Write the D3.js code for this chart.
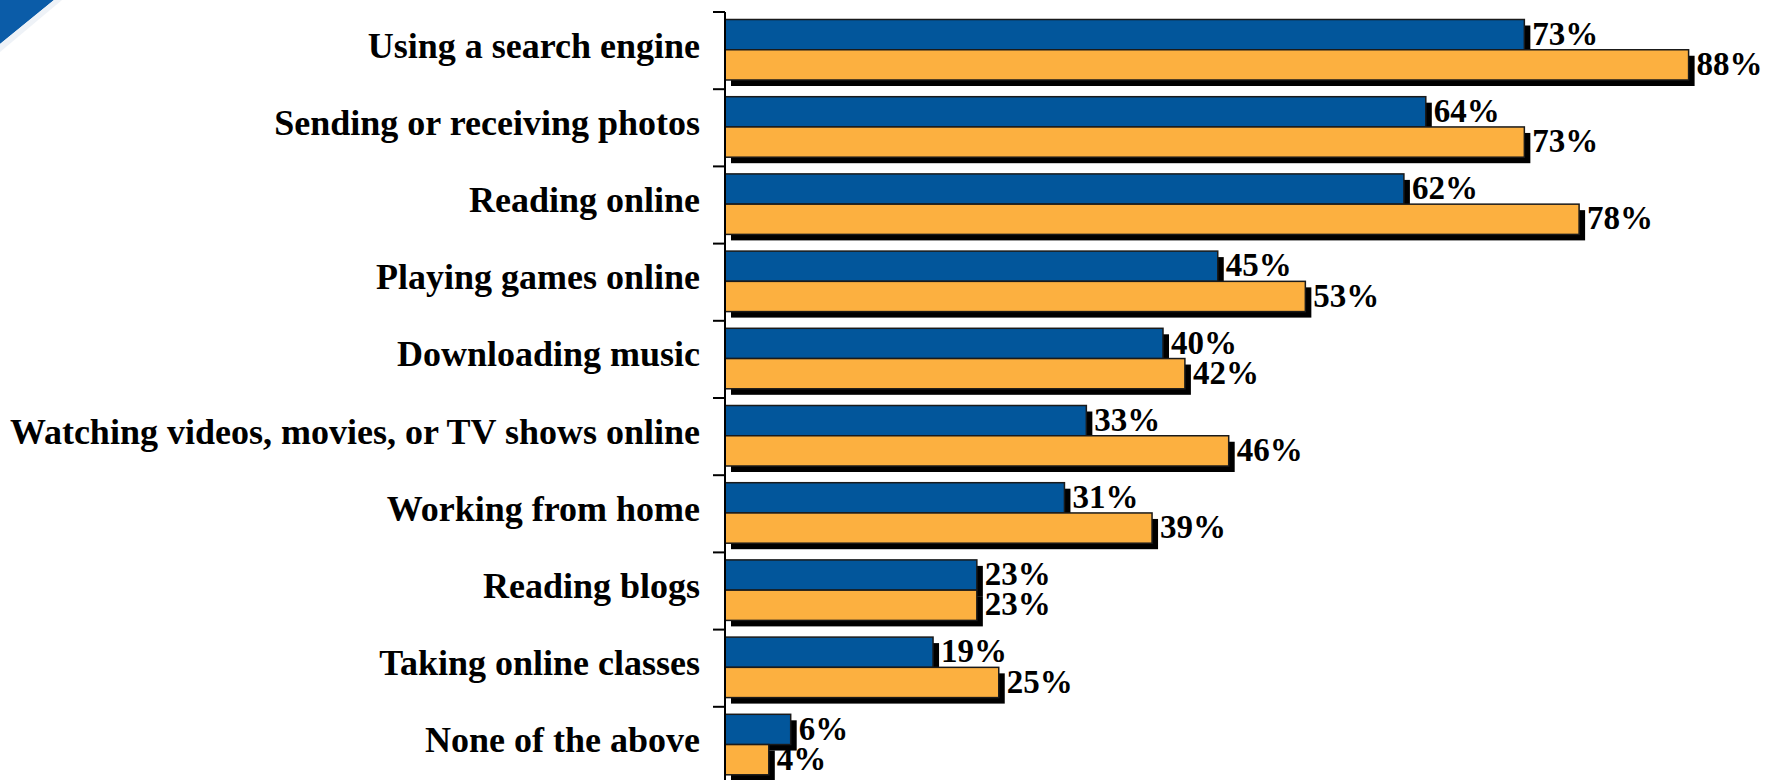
<!DOCTYPE html>
<html>
<head>
<meta charset="utf-8">
<script src="https://cdn.jsdelivr.net/npm/d3@7"></script>
<style>
  html, body { margin: 0; padding: 0; background: #ffffff; }
  svg { display: block; }
</style>
</head>
<body>
<svg id="chart" width="1768" height="780"></svg>
<script>
const categories = [
  "Using a search engine",
  "Sending or receiving photos",
  "Reading online",
  "Playing games online",
  "Downloading music",
  "Watching videos, movies, or TV shows online",
  "Working from home",
  "Reading blogs",
  "Taking online classes",
  "None of the above"
];
const seriesNames = ["Series 1", "Series 2"];
const series1 = [73, 64, 62, 45, 40, 33, 31, 23, 19, 6];
const series2 = [88, 73, 78, 53, 42, 46, 39, 23, 25, 4];
const seriesColors = ["#02569B", "#FCB040"];

const svg = d3.select("#chart");
const W = 1768, H = 780;

const axisX = 725;
const bandTop = 12, bandStep = 77.2;

const x = d3.scaleLinear().domain([0, 100]).range([axisX, axisX + 1095]);
const y0 = d3.scaleBand().domain(categories)
  .range([bandTop, bandTop + bandStep * categories.length])
  .paddingInner(0).paddingOuter(0);
const y1 = d3.scaleBand().domain(seriesNames).range([7.5, 68]).padding(0);

const rows = categories.map((c, i) => ({
  cat: c,
  vals: [
    { s: seriesNames[0], v: series1[i], color: seriesColors[0] },
    { s: seriesNames[1], v: series2[i], color: seriesColors[1] }
  ]
}));

// top-left decoration
svg.append("path")
  .attr("d", "M0,0 L54,0 L0,44 Z")
  .attr("fill", "#0B5CA8");
svg.append("path")
  .attr("d", "M54,0 L62,0 L0,52 L0,44 Z")
  .attr("fill", "#eef2f7");

const groups = svg.append("g").selectAll("g.row")
  .data(rows).join("g")
  .attr("class", "row")
  .attr("transform", d => `translate(0,${y0(d.cat)})`);

const sh = 6;
groups.selectAll("rect.shadow")
  .data(d => d.vals).join("rect")
  .attr("class", "shadow")
  .attr("x", x(0) + sh)
  .attr("y", d => y1(d.s) + sh)
  .attr("width", d => x(d.v) - x(0))
  .attr("height", y1.bandwidth())
  .attr("fill", "#000");

groups.selectAll("rect.bar")
  .data(d => d.vals).join("rect")
  .attr("class", "bar")
  .attr("x", x(0))
  .attr("y", d => y1(d.s))
  .attr("width", d => x(d.v) - x(0))
  .attr("height", y1.bandwidth())
  .attr("fill", d => d.color)
  .attr("stroke", "#1a1a1a")
  .attr("stroke-width", 1.5);

groups.selectAll("text.val")
  .data(d => d.vals).join("text")
  .attr("class", "val")
  .attr("x", d => x(d.v) + sh + 2)
  .attr("y", d => y1(d.s) + y1.bandwidth() - 5)
  .attr("font-family", "'Liberation Serif', 'Times New Roman', serif")
  .attr("font-weight", "bold")
  .attr("font-size", 33)
  .attr("fill", "#000")
  .text(d => d.v + "%");

groups.append("text")
  .attr("x", 700)
  .attr("y", y0.bandwidth() / 2 + 7)
  .attr("text-anchor", "end")
  .attr("font-family", "'Liberation Serif', 'Times New Roman', serif")
  .attr("font-weight", "bold")
  .attr("font-size", 36)
  .attr("fill", "#000")
  .text(d => d.cat);

const axisG = svg.append("g");
axisG.append("line")
  .attr("x1", axisX).attr("x2", axisX)
  .attr("y1", bandTop).attr("y2", H)
  .attr("stroke", "#000").attr("stroke-width", 2);
axisG.selectAll("line.tick")
  .data(categories).join("line")
  .attr("class", "tick")
  .attr("x1", axisX - 12).attr("x2", axisX)
  .attr("y1", d => y0(d)).attr("y2", d => y0(d))
  .attr("stroke", "#000").attr("stroke-width", 2);
</script>
</body>
</html>
